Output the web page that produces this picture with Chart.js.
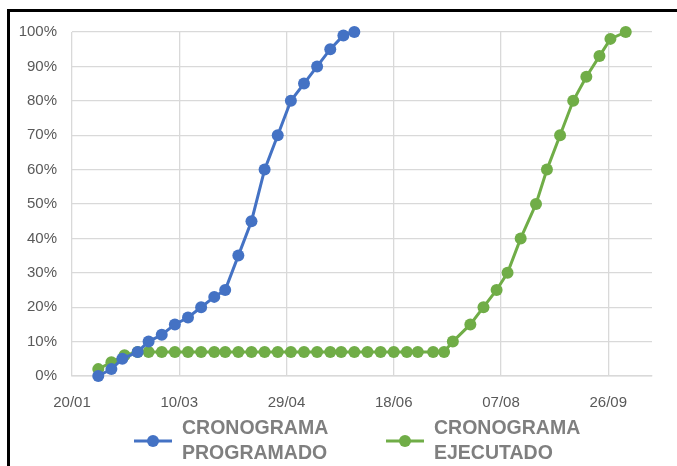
<!DOCTYPE html>
<html>
<head>
<meta charset="utf-8">
<script src="https://cdn.jsdelivr.net/npm/chart.js@4/dist/chart.umd.min.js"></script>
<style>
  html, body { margin: 0; padding: 0; background: #fff; overflow: hidden; }
  #frame { position: absolute; left: 7px; top: 9px; width: 720px; height: 600px; border: 3px solid #000; }
  #wrap { position: absolute; left: 0; top: 0; width: 677px; height: 466px; }
</style>
</head>
<body>
<div id="frame"></div>
<div id="wrap"><canvas id="chart"></canvas></div>
<script>
// days counted from 20/01
var tickDays = [0, 49, 98, 147, 196, 245];
var tickLabels = ["20/01", "10/03", "29/04", "18/06", "07/08", "26/09"];

var seriesNames = [["CRONOGRAMA", "PROGRAMADO"], ["CRONOGRAMA", "EJECUTADO"]];

var programadoDays = [12, 18, 23, 30, 35, 41, 47, 53, 59, 65, 70, 76, 82, 88, 94, 100, 106, 112, 118, 124, 129];
var programadoVals = [0, 2, 5, 7, 10, 12, 15, 17, 20, 23, 25, 35, 45, 60, 70, 80, 85, 90, 95, 99, 100];

var ejecutadoDays = [12, 18, 24, 30, 35, 41, 47, 53, 59, 65, 70, 76, 82, 88, 94, 100, 106, 112, 118, 123,
  129, 135, 141, 147, 153, 158, 165, 170, 174, 182, 188, 194, 199, 205, 212, 217, 223, 229, 235, 241, 246, 253];
var ejecutadoVals = [2, 4, 6, 7, 7, 7, 7, 7, 7, 7, 7, 7, 7, 7, 7, 7, 7, 7, 7, 7,
  7, 7, 7, 7, 7, 7, 7, 7, 10, 15, 20, 25, 30, 40, 50, 60, 70, 80, 87, 93, 98, 100];

function toPoints(days, vals) {
  return days.map(function (d, i) { return { x: d, y: vals[i] }; });
}

// legend with two text lines and a line+dot marker
var twoLineLegend = {
  id: "twoLineLegend",
  afterDraw: function (chart, args, opts) {
    var ctx = chart.ctx;
    ctx.save();
    ctx.font = "bold 19.5px 'Liberation Sans', Arial, sans-serif";
    ctx.textBaseline = "middle";
    ctx.textAlign = "left";
    chart.data.datasets.forEach(function (ds, i) {
      var x = opts.x[i], y = opts.y;
      ctx.strokeStyle = ds.borderColor;
      ctx.lineWidth = 3;
      ctx.beginPath();
      ctx.moveTo(x, y);
      ctx.lineTo(x + 38, y);
      ctx.stroke();
      ctx.fillStyle = ds.borderColor;
      ctx.beginPath();
      ctx.arc(x + 19, y, 6, 0, Math.PI * 2);
      ctx.fill();
      ctx.fillStyle = "#7f7f7f";
      ds.label.forEach(function (line, j) {
        ctx.fillText(line, x + 48, y - 12.5 + j * 25);
      });
    });
    ctx.restore();
  }
};

var gridColor = "#d9d9d9";
var tickFont = { family: "'Liberation Sans', Arial, sans-serif", size: 15 };

new Chart(document.getElementById("chart"), {
  type: "line",
  data: {
    datasets: [
      {
        label: seriesNames[0],
        data: toPoints(programadoDays, programadoVals),
        borderColor: "#4472C4",
        backgroundColor: "#4472C4",
        borderWidth: 3,
        pointRadius: 6,
        pointBorderWidth: 0,
        tension: 0,
        clip: false
      },
      {
        label: seriesNames[1],
        data: toPoints(ejecutadoDays, ejecutadoVals),
        borderColor: "#70AD47",
        backgroundColor: "#70AD47",
        borderWidth: 3,
        pointRadius: 6,
        pointBorderWidth: 0,
        tension: 0,
        clip: false
      }
    ]
  },
  options: {
    responsive: true,
    maintainAspectRatio: false,
    animation: false,
    layout: { padding: { left: 0, right: 25, top: 32, bottom: 54 } },
    plugins: {
      legend: { display: false },
      tooltip: { enabled: false },
      twoLineLegend: { x: [134, 386], y: 441 }
    },
    scales: {
      x: {
        type: "linear",
        min: 0,
        max: 265,
        afterBuildTicks: function (scale) {
          scale.ticks = tickDays.map(function (d) { return { value: d }; });
        },
        afterFit: function (scale) { scale.height = 36; },
        grid: { color: gridColor, lineWidth: 1.3, drawTicks: false },
        border: { color: gridColor, width: 1.5 },
        ticks: {
          padding: 18,
          color: "#595959",
          font: tickFont,
          maxRotation: 0,
          autoSkip: false,
          callback: function (v) {
            var i = tickDays.indexOf(v);
            return i >= 0 ? tickLabels[i] : "";
          }
        }
      },
      y: {
        min: 0,
        max: 100,
        afterFit: function (scale) { scale.width = 72; },
        grid: { color: gridColor, lineWidth: 1.3, drawTicks: false },
        border: { display: false },
        ticks: {
          stepSize: 10,
          padding: 15,
          color: "#595959",
          font: tickFont,
          callback: function (v) { return v + "%"; }
        }
      }
    }
  },
  plugins: [twoLineLegend]
});
</script>
</body>
</html>
